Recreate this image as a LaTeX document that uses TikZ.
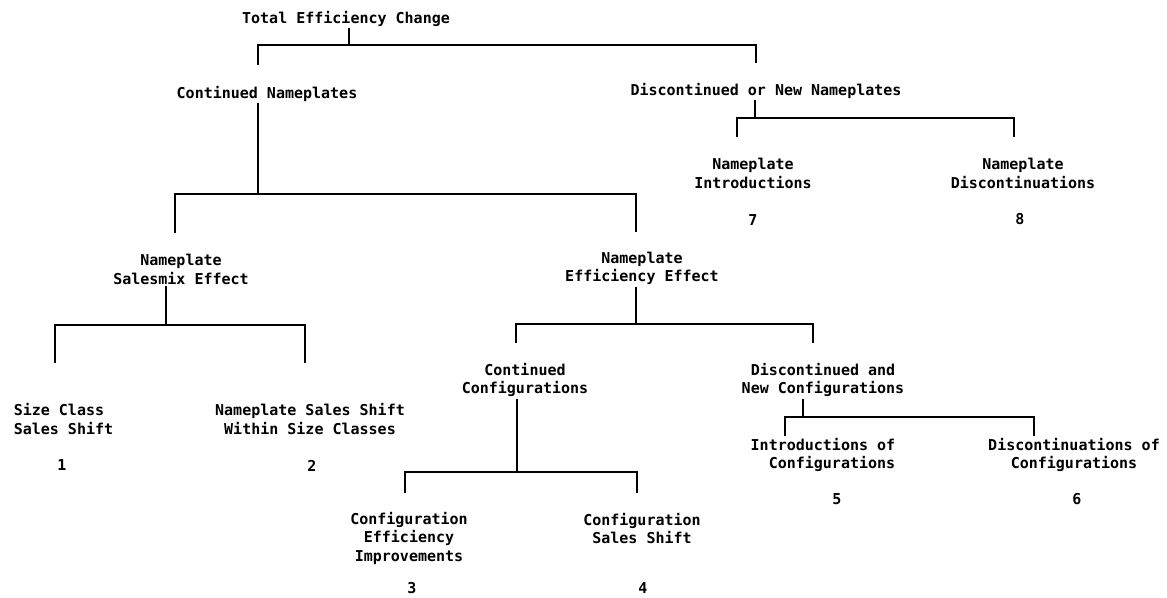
\documentclass[tikz,border=0pt]{standalone}
\usepackage{fontspec}
\newfontfamily\lpfont{DejaVu Sans Mono}

\tikzset{every picture/.style={line width=1.6pt}}
\tikzset{lbl/.style={font=\lpfont\bfseries\fontsize{15}{18.5}\selectfont, align=center, inner sep=1pt}}

\begin{document}
\begin{tikzpicture}[x=1pt,y=1pt,yscale=-1]
  \useasboundingbox (0,0) rectangle (1167,597); %page has the size of the scan

  % labels
  \node [lbl] (tot) at (346,18.5) {Total Efficiency Change};
  \node [lbl] (cn) at (267,93.5) {Continued Nameplates};
  \node [lbl] (dn) at (766,90.5) {Discontinued or New Nameplates};
  \node [lbl] (ni) at (753,173.5) {Nameplate\\Introductions};
  \node [lbl] (nd) at (1023,173.5) {Nameplate\\Discontinuations};
  \node [lbl] (n7) at (753,220.5) {7};
  \node [lbl] (n8) at (1020,219.5) {8};
  \node [lbl] (ns) at (181,269.5) {Nameplate\\Salesmix Effect};
  \node [lbl] (ne) at (642,268.5) {Nameplate\\Efficiency Effect};
  \node [lbl, align=left, anchor=west] (sc) at (12,419) {Size Class\\Sales Shift};
  \node [lbl] (ss) at (310,419) {Nameplate Sales Shift\\Within Size Classes};
  \node [lbl] (n1) at (62,465.5) {1};
  \node [lbl] (n2) at (312,465.5) {2};
  \node [lbl] (cc) at (525,380) {Continued\\Configurations};
  \node [lbl] (dc) at (823,380) {Discontinued and\\New Configurations};
  \node [lbl] (ce) at (409,538) {Configuration\\Efficiency\\Improvements};
  \node [lbl] (cs) at (642,528.5) {Configuration\\Sales Shift};
  \node [lbl] (n3) at (412,588.5) {3};
  \node [lbl] (n4) at (643,588.5) {4};
  \node [lbl, align=right, anchor=east] (ic) at (897,455) {Introductions of\\Configurations};
  \node [lbl] (dcf) at (1074,455) {Discontinuations of\\Configurations};
  \node [lbl] (n5) at (837,499) {5};
  \node [lbl] (n6) at (1077,499) {6};

  % junctions and drop ends
  \coordinate (j1) at (349,45);
  \coordinate (cnT) at (258,65);
  \coordinate (dnT) at (756,63);
  \coordinate (j2) at (258,194);
  \coordinate (nsT) at (175,233);
  \coordinate (neT) at (636,232);
  \coordinate (j3) at (755,118);
  \coordinate (niT) at (737,137);
  \coordinate (ndT) at (1014,137);
  \coordinate (j4) at (166,325);
  \coordinate (scT) at (55,363);
  \coordinate (ssT) at (305,363);
  \coordinate (j5) at (636,324);
  \coordinate (ccT) at (516,343);
  \coordinate (dcT) at (813,343);
  \coordinate (j6) at (517,472);
  \coordinate (ceT) at (405,493);
  \coordinate (csT) at (637,493);
  \coordinate (j7) at (803,417);
  \coordinate (icT) at (785,436);
  \coordinate (dfT) at (1034,436);

  \draw (tot.south -| j1) -- (j1);
  \draw (cnT) |- (j1) -| (dnT);

  \draw (cn.south -| j2) -- (j2);
  \draw (nsT) |- (j2) -| (neT);

  \draw (dn.south -| j3) -- (j3);
  \draw (niT) |- (j3) -| (ndT);

  \draw (ns.south -| j4) -- (j4);
  \draw (scT) |- (j4) -| (ssT);

  \draw (ne.south -| j5) -- (j5);
  \draw (ccT) |- (j5) -| (dcT);

  \draw (cc.south -| j6) -- (j6);
  \draw (ceT) |- (j6) -| (csT);

  \draw (dc.south -| j7) -- (j7);
  \draw (icT) |- (j7) -| (dfT);

\end{tikzpicture}
\end{document}
